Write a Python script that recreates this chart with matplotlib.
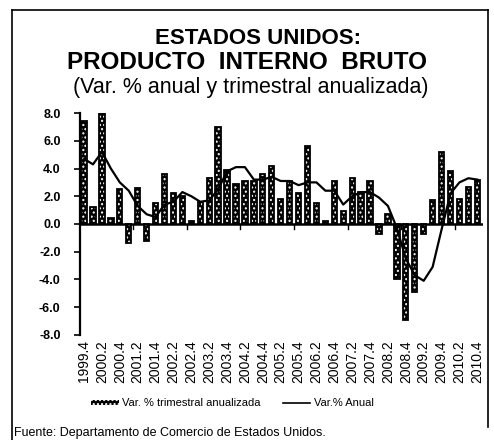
import matplotlib
matplotlib.use("Agg")
import matplotlib.pyplot as plt
from matplotlib.lines import Line2D
from matplotlib.patches import Patch

plt.rcParams['font.family'] = ['Liberation Sans', 'DejaVu Sans']
plt.rcParams['hatch.linewidth'] = 1.0

# quarters 1999.4 .. 2010.4
quarters = []
for y in range(1999, 2011):
    for q in range(1, 5):
        if (y, q) >= (1999, 4):
            quarters.append("{}.{}".format(y, q))

# Var. % trimestral anualizada
quarterly = [7.4, 1.2, 8.0, 0.4, 2.5, -1.4, 2.6, -1.2, 1.5, 3.6,
             2.2, 2.0, 0.2, 1.6, 3.3, 7.0, 3.9, 2.9, 3.1, 3.1,
             3.6, 4.2, 1.8, 3.1, 2.2, 5.6, 1.5, 0.2, 3.1, 0.9,
             3.3, 2.3, 3.1, -0.7, 0.7, -4.0, -6.9, -4.9, -0.7, 1.7,
             5.2, 3.8, 1.8, 2.7, 3.2]

# Var.% Anual
annual = [4.7, 4.3, 5.2, 4.0, 3.0, 2.4, 1.3, 0.7, 0.5, 1.4,
          1.6, 2.3, 2.0, 1.6, 1.7, 2.5, 3.8, 4.1, 4.1, 3.2,
          3.2, 3.4, 3.1, 3.1, 2.8, 3.0, 3.0, 2.4, 2.4, 1.4,
          2.0, 2.3, 2.3, 1.9, 1.3, -0.3, -2.5, -3.7, -4.1, -3.1,
          -0.4, 2.2, 3.0, 3.3, 3.2]

x = list(range(len(quarters)))

fig = plt.figure(figsize=(4.94, 4.40), dpi=100)
ax = fig.add_axes([0.162, 0.239, 0.816, 0.504])

# stippled bars: dark fill with white dots, then black outline
ax.bar(x, quarterly, width=0.6, color="black", edgecolor="white",
       hatch="....", linewidth=0, zorder=2)
ax.bar(x, quarterly, width=0.6, fill=False, edgecolor="black",
       linewidth=1.3, zorder=3)

ax.plot(x, annual, color="black", linewidth=1.6, zorder=4)

ax.axhline(0, color="black", linewidth=1.8, zorder=5)

ax.set_ylim(-8, 8)
ax.set_xlim(-0.45, len(quarters) - 0.35)
ax.set_yticks(range(-8, 9, 2))
ax.set_yticklabels(["{:.1f}".format(v) for v in range(-8, 9, 2)],
                   fontsize=9, fontweight="bold")
ax.tick_params(axis="y", length=4, width=1.2, pad=10)

ax.set_xticks(x[::2])
ax.set_xticklabels(quarters[::2], rotation=90, fontsize=10)
ax.tick_params(axis="x", length=0, pad=4)

# small category ticks on the zero line
for t in [5.5, 11.5, 17.5, 23.5, 29.5, 35.5, 41.5]:
    ax.plot([t, t], [0, -0.35], color="black", linewidth=1.0, zorder=5)

for s in ["top", "right", "bottom"]:
    ax.spines[s].set_visible(False)
ax.spines["left"].set_linewidth(1.6)

fig.text(0.522, 0.912, "ESTADOS UNIDOS:", ha="center", va="center",
         fontsize=16, fontweight="bold")
fig.text(0.5, 0.858, "PRODUCTO  INTERNO  BRUTO", ha="center", va="center",
         fontsize=17.5, fontweight="bold")
fig.text(0.508, 0.8, "(Var. % anual y trimestral anualizada)", ha="center",
         va="center", fontsize=15.5)

bar_handle = Patch(facecolor="black", edgecolor="white", hatch="....",
                   linewidth=0)
line_handle = Line2D([0], [0], color="black", linewidth=1.2)
fig.legend([bar_handle, line_handle],
           ["Var. % trimestral anualizada", "Var.% Anual"],
           loc="center", bbox_to_anchor=(0.47, 0.083), ncol=2, frameon=False,
           fontsize=8, handlelength=2.5, handleheight=0.4, columnspacing=2.0,
           handletextpad=0.3)

fig.text(0.028, 0.016, "Fuente: Departamento de Comercio de Estados Unidos.",
         ha="left", va="center", fontsize=9)

# frame around the chart
fig.add_artist(Line2D([0.025, 0.988], [0.977, 0.977], color="black",
                      linewidth=1.2, transform=fig.transFigure))
fig.add_artist(Line2D([0.025, 0.025], [0.977, 0.0], color="black",
                      linewidth=1.2, transform=fig.transFigure))
fig.add_artist(Line2D([0.988, 0.988], [0.977, 0.03], color="black",
                      linewidth=1.2, transform=fig.transFigure))

fig.savefig("out.png", dpi=100)
